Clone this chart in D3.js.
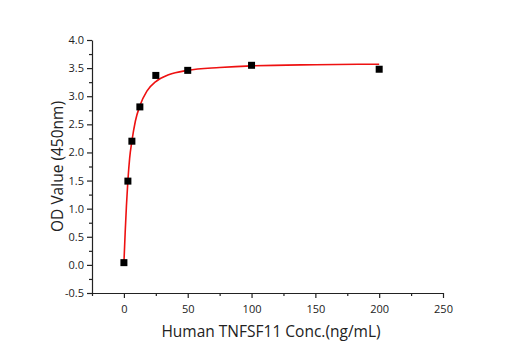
<!DOCTYPE html>
<html>
<head>
<meta charset="utf-8">
<script src="https://cdn.jsdelivr.net/npm/d3@7"></script>
<style>
  body { margin: 0; background: #fff; }
  text { font-family: "Open Sans", sans-serif; }
</style>
</head>
<body>
<div id="chart"></div>
<script>
// measured points
const conc = [0, 3.125, 6.25, 12.5, 25, 50, 100, 200];
const od = [0.04, 1.49, 2.2, 2.81, 3.37, 3.46, 3.55, 3.48];

// fitted curve
const fitX = [0, 1, 2, 3.125, 4.5, 6.25, 9, 12.5, 18, 25, 35, 50, 75, 100, 150, 200];
const fitY = [0.03, 0.58, 1.06, 1.5, 1.9, 2.2, 2.56, 2.83, 3.09, 3.26, 3.38, 3.46, 3.51, 3.54, 3.56, 3.57];

const xTicks = [0, 50, 100, 150, 200, 250];
const yTicks = [-0.5, 0, 0.5, 1, 1.5, 2, 2.5, 3, 3.5, 4];

const width = 515;
const height = 350;

const svg = d3.select('#chart')
  .append('svg')
  .attr('width', width)
  .attr('height', height);

const xScale = d3.scaleLinear().domain([-25, 250]).range([92, 443]);
const yScale = d3.scaleLinear().domain([-0.5, 4]).range([293, 40]);

const xAxis = svg.append('g')
  .attr('transform', `translate(0, ${yScale(-0.5)})`)
  .call(d3.axisBottom(xScale).tickValues(xTicks).tickFormat(d3.format('d')).tickSize(5).tickSizeOuter(0));

svg.append('g')
  .attr('transform', `translate(0, ${yScale(-0.5)})`)
  .call(d3.axisBottom(xScale).tickValues(d3.range(-25, 251, 25).filter((d) => d % 50 !== 0)).tickFormat('').tickSize(3).tickSizeOuter(0))
  .select('.domain').remove();

const yAxis = svg.append('g')
  .attr('transform', `translate(${xScale(-25)}, 0)`)
  .call(d3.axisLeft(yScale).tickValues(yTicks).tickFormat((d) => d.toFixed(1)).tickSize(5).tickSizeOuter(0));

svg.append('g')
  .attr('transform', `translate(${xScale(-25)}, 0)`)
  .call(d3.axisLeft(yScale).tickValues(d3.range(-0.25, 4, 0.5)).tickFormat('').tickSize(3).tickSizeOuter(0))
  .select('.domain').remove();

svg.selectAll('.domain, .tick line').attr('stroke', '#222').attr('stroke-width', 1.2);
xAxis.selectAll('text').attr('font-size', 11).attr('fill', '#222').attr('dy', '1.1em');
yAxis.selectAll('text').attr('font-size', 11).attr('fill', '#222');

const fitData = fitX.map((x, i) => ({ x, y: fitY[i] }));
const line = d3.line()
  .x((d) => xScale(d.x))
  .y((d) => yScale(d.y))
  .curve(d3.curveMonotoneX);

svg.append('path')
  .datum(fitData)
  .attr('d', line)
  .attr('fill', 'none')
  .attr('stroke', '#ee1111')
  .attr('stroke-width', 1.6);

const s = 7;
svg.append('g')
  .selectAll('rect')
  .data(conc.map((c, i) => ({ x: c, y: od[i] })))
  .join('rect')
  .attr('x', (d) => xScale(d.x) - s / 2)
  .attr('y', (d) => yScale(d.y) - s / 2)
  .attr('width', s)
  .attr('height', s)
  .attr('fill', '#000');

svg.append('text')
  .attr('x', 271)
  .attr('y', 337)
  .attr('text-anchor', 'middle')
  .attr('font-size', 15.5)
  .attr('fill', '#222')
  .text('Human TNFSF11 Conc.(ng/mL)');

svg.append('text')
  .attr('transform', `translate(63, ${(yScale(-0.5) + yScale(4)) / 2}) rotate(-90)`)
  .attr('text-anchor', 'middle')
  .attr('font-size', 15.5)
  .attr('fill', '#222')
  .text('OD Value (450nm)');
</script>
</body>
</html>
